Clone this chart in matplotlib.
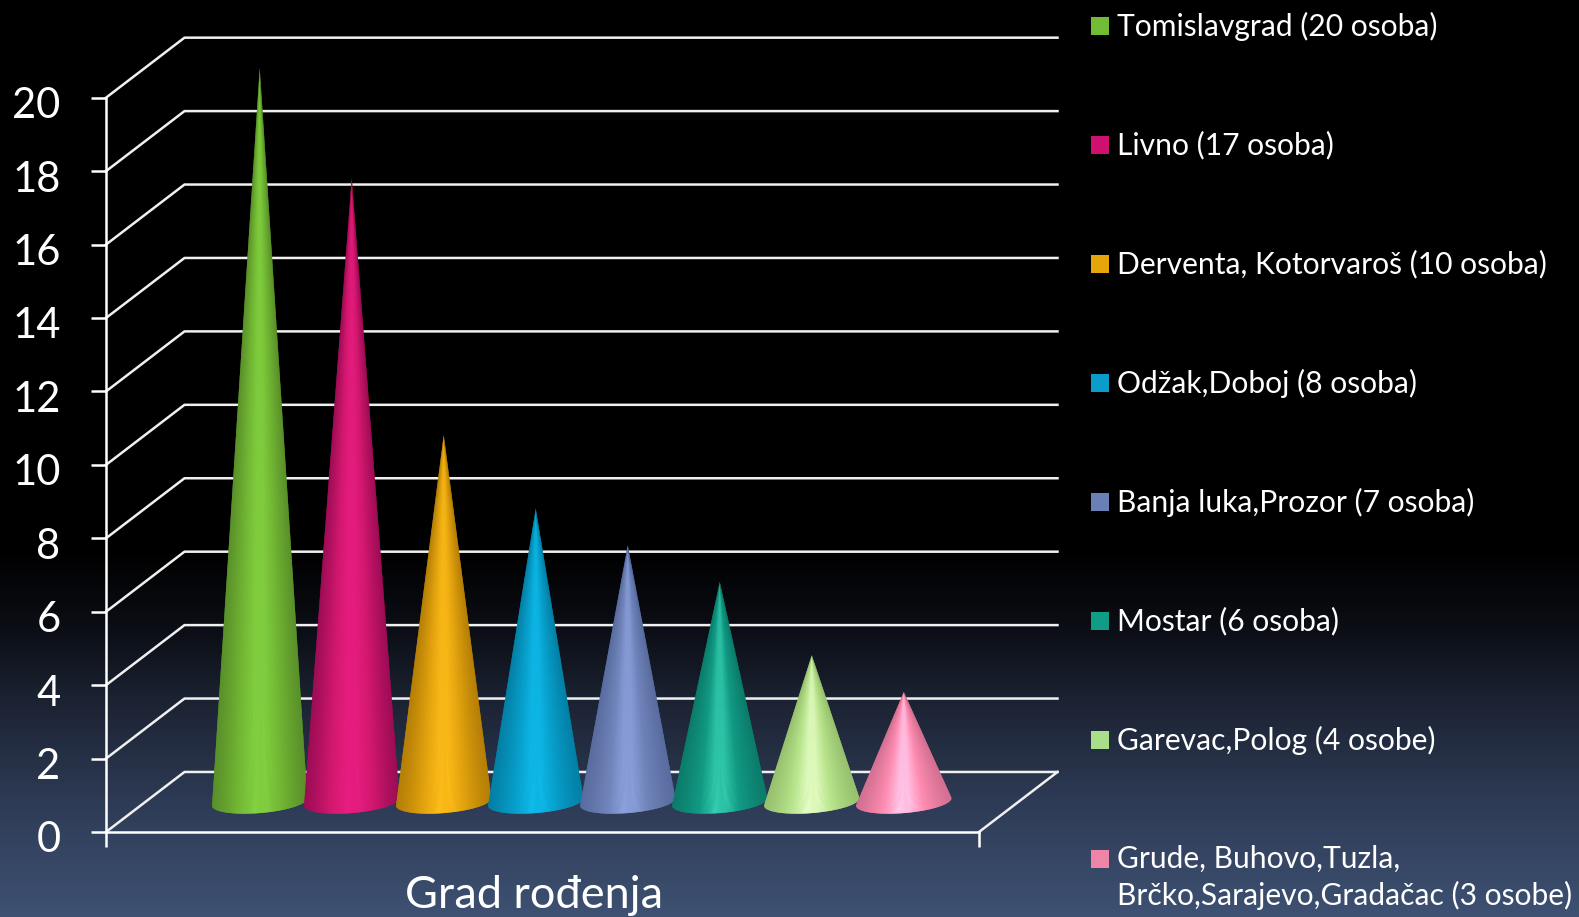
import numpy as np
import matplotlib
matplotlib.use("Agg")
import matplotlib.pyplot as plt
from matplotlib.collections import PolyCollection
from matplotlib.colors import LinearSegmentedColormap
from matplotlib.patches import Rectangle
from matplotlib.transforms import ScaledTranslation

plt.rcParams['font.family'] = ['Lato', 'DejaVu Sans']

# Podaci
osobe = [20, 17, 10, 8, 7, 6, 4, 3]
gradovi = [
    "Tomislavgrad (20 osoba)",
    "Livno (17 osoba)",
    "Derventa, Kotorvaroš (10 osoba)",
    "Odžak,Doboj (8 osoba)",
    "Banja luka,Prozor (7 osoba)",
    "Mostar (6 osoba)",
    "Garevac,Polog (4 osobe)",
    "Grude, Buhovo,Tuzla,\nBrčko,Sarajevo,Gradačac (3 osobe)",
]
y_ticks = [0, 2, 4, 6, 8, 10, 12, 14, 16, 18, 20]
naslov_x = "Grad rođenja"

# Boje: rub, sredina, odsjaj, legenda
boje_rub = ["#4f7e27", "#85094b", "#a06f05", "#037295", "#506394", "#0b6f5f", "#8ab262", "#c06585"]
boje_sred = ["#73b934", "#d3186f", "#e3a30e", "#07a0cc", "#7084bb", "#119a85", "#b8e48c", "#ff8db2"]
boje_odsjaj = ["#84d342", "#ea1e82", "#ffbe1a", "#10bcec", "#8ea3de", "#36d0b2", "#e8ffc8", "#ffcdf0"]
boje_legenda = ["#72bb35", "#d0106e", "#e5a50b", "#0a9dc9", "#6a7fb6", "#119d85", "#a9df8a", "#ee85a8"]

W, H = 1579, 917
fig = plt.figure(figsize=(W / 100, H / 100), dpi=100)

# Pozadina
bg = fig.add_axes([0, 0, 1, 1], zorder=-1)
bg_cmap = LinearSegmentedColormap.from_list("bg", [
    (0.0, "#000000"), (550 / H, "#000000"), (640 / H, "#0d1018"),
    (700 / H, "#1b2232"), (800 / H, "#2d3a54"), (1.0, "#3e5172")])
bg.imshow(np.linspace(0, 1, H).reshape(-1, 1), aspect="auto", cmap=bg_cmap, vmin=0, vmax=1)
bg.axis("off")

# Glavni graf
ax = fig.add_axes([106 / W, 1 - 832 / H, (979 - 106) / W, (832 - 97.7) / H])
ax.patch.set_alpha(0)
pad = 1.244
xl, xr = -pad, len(osobe) - 1 + pad
ax.set_xlim(xl, xr)
ax.set_ylim(0, 20)

# Pomak dubine (3D)
dx, dy = 0.853, 1.635

for s in ["top", "right"]:
    ax.spines[s].set_visible(False)
for s in ["left", "bottom"]:
    ax.spines[s].set_color("white")
    ax.spines[s].set_linewidth(1.8)
ax.set_yticks(y_ticks)
ax.set_xticks([xl, xr])
ax.set_xticklabels(["", ""])
ax.tick_params(axis="both", color="white", width=1.8, length=10.8)
ax.tick_params(axis="y", labelcolor="white", labelsize=30, pad=22)

pomak = ScaledTranslation(0, -5 / 100, fig.dpi_scale_trans)
for lab in ax.get_yticklabels():
    lab.set_transform(lab.get_transform() + pomak)

# Mreza
for v in y_ticks:
    ax.plot([xl, xl + dx, xr + dx], [v, v + dy, v + dy], color="#f0f0f0", lw=1.8, clip_on=False, zorder=1)
ax.plot([xr + dx, xr], [dy, 0], color="#f0f0f0", lw=1.8, clip_on=False, zorder=1)

# Stosci
a = 0.49
f = 0.195
for i, v in enumerate(osobe):
    cx = i + dx * 0.5
    cy = dy * 0.5
    pu = -f * dx * (v / (f * dy)) / a
    pv = v / (f * dy)
    th = np.arctan2(pv, pu)
    raspon = np.arccos(1 / np.hypot(pu, pv))
    t = np.linspace(th + raspon, th + 2 * np.pi - raspon, 161)
    bx = cx + a * np.cos(t) + f * dx * np.sin(t)
    by = cy + f * dy * np.sin(t)
    q = (bx - bx.min()) / (bx.max() - bx.min())
    cm = LinearSegmentedColormap.from_list("c" + str(i), [
        (0.0, boje_rub[i]), (0.28, boje_sred[i]), (0.44, boje_odsjaj[i]),
        (0.56, boje_odsjaj[i]), (0.72, boje_sred[i]), (1.0, boje_rub[i])])
    # puna silueta ispod trokuta da se mreza ne vidi kroz spojeve
    ax.fill(np.r_[cx, bx], np.r_[cy + v, by], color=boje_sred[i], lw=0, clip_on=False, zorder=3 + i)
    trokuti = []
    boje = []
    for k in range(len(t) - 1):
        trokuti.append([(cx, cy + v), (bx[k], by[k]), (bx[k + 1], by[k + 1])])
        boje.append(cm((q[k] + q[k + 1]) / 2))
    pc = PolyCollection(trokuti, facecolors=boje, edgecolors="none", clip_on=False, zorder=3 + i)
    ax.add_collection(pc)

# Naslov osi
fig.text(534 / W, 1 - 895 / H, naslov_x, color="white", fontsize=32.5, ha="center", va="center")

# Legenda
for i, g in enumerate(gradovi):
    yc = 26 + 119 * i
    fig.add_artist(Rectangle((1091 / W, 1 - (yc + 9) / H), 18 / W, 18 / H, transform=fig.transFigure,
                             facecolor=boje_legenda[i], edgecolor="none"))
    fig.text(1117 / W, 1 - (yc - 14.5) / H, g, color="white", fontsize=21.6, ha="left", va="top", linespacing=1.35)

fig.savefig("out.png", dpi=100)
